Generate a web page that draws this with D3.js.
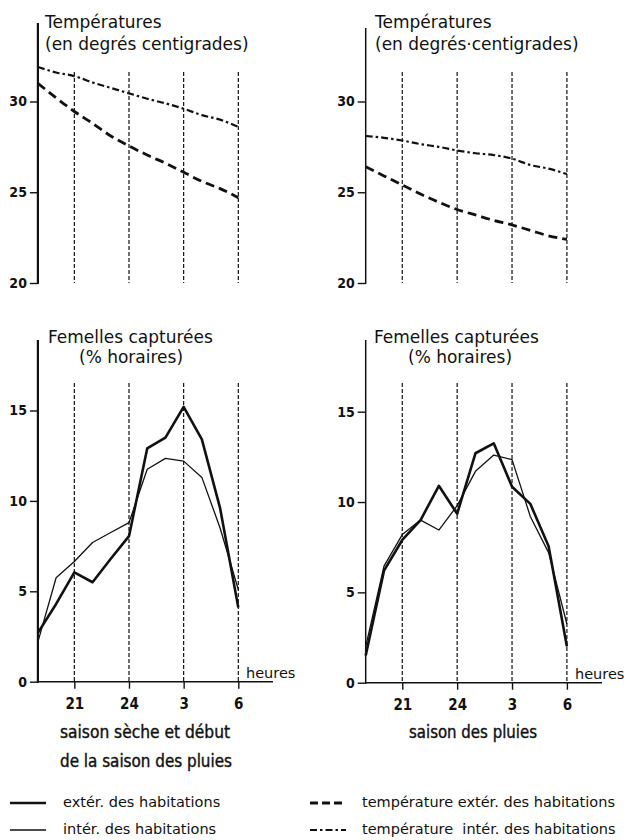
<!DOCTYPE html>
<html>
<head>
<meta charset="utf-8">
<script src="https://cdn.jsdelivr.net/npm/d3@7"></script>
<style>
body{margin:0;background:#fff;}
svg text{font-family:"DejaVu Sans",sans-serif;fill:#111;}
</style>
</head>
<body>
<svg id="chart" width="624" height="840"></svg>
<script>
// hours of the night, 19h -> 6h
const hours = ['19','20','21','22','23','24','1','2','3','4','5','6'];
const hourTicks = ['21','24','3','6'];
const tempTicks = [20, 25, 30];
const captureTicks = [0, 5, 10, 15];

// saison seche et debut de la saison des pluies
const dryTempExt = [31.0, 30.2, 29.45, 28.8, 28.1, 27.55, 27.05, 26.6, 26.1, 25.6, 25.2, 24.7];
const dryTempInt = [31.9, 31.6, 31.4, 31.05, 30.75, 30.45, 30.15, 29.9, 29.6, 29.25, 29.0, 28.6];
const dryCapExt = [2.7, 4.3, 6.05, 5.5, 6.8, 8.05, 12.9, 13.5, 15.2, 13.4, 9.6, 4.1];
const dryCapInt = [2.2, 5.75, 6.65, 7.7, 8.25, 8.8, 11.75, 12.35, 12.2, 11.3, 8.5, 5.1];

// saison des pluies
const wetTempExt = [26.4, 25.9, 25.4, 24.9, 24.45, 24.05, 23.75, 23.45, 23.2, 22.9, 22.6, 22.4];
const wetTempInt = [28.1, 28.0, 27.85, 27.65, 27.5, 27.3, 27.15, 27.05, 26.85, 26.5, 26.3, 26.0];
const wetCapExt = [1.5, 6.2, 7.9, 9.0, 10.9, 9.35, 12.7, 13.25, 10.85, 9.9, 7.55, 2.0];
const wetCapInt = [2.0, 6.45, 8.2, 9.0, 8.45, 9.8, 11.7, 12.6, 12.35, 9.2, 7.2, 3.25];

const styles = {
    capExt: {width: 2.6, dash: null},
    capInt: {width: 1.3, dash: null},
    tempExt: {width: 2.8, dash: '9,5'},
    tempInt: {width: 2.2, dash: '7,3,2.5,3'}
};

let svg = d3.select('#chart');

function drawPanel(p){
    let x = d3.scalePoint().domain(hours).range(p.xRange);
    let y = d3.scaleLinear().domain(p.yDomain).range(p.yRange);
    let g = svg.append('g');
    let yBase = y(p.yDomain[0]);

    // dashed hour markers
    g.selectAll('line.hour').data(hourTicks).enter().append('line')
        .attr('x1', function(d){return x(d)}).attr('x2', function(d){return x(d)})
        .attr('y1', p.gridTop).attr('y2', yBase)
        .style('stroke', '#111').style('stroke-width', 1.2).style('stroke-dasharray', '4,2');

    // series
    let line = d3.line()
        .x(function(d, i){return x(hours[i])})
        .y(function(d){return y(d)})
        .curve(p.smooth ? d3.curveMonotoneX : d3.curveLinear);
    p.series.forEach(function(s){
        let st = styles[s.style];
        g.append('path').datum(s.values)
            .attr('d', line)
            .style('fill', 'none').style('stroke', '#111')
            .style('stroke-width', st.width)
            .style('stroke-dasharray', st.dash)
            .style('stroke-linejoin', 'round');
    });

    // y axis
    let yAxis = d3.axisLeft(y).tickValues(p.yTicks).tickSize(8).tickPadding(3).tickFormat(d3.format('d'));
    let ya = g.append('g').attr('transform', 'translate(' + p.xRange[0] + ',0)').call(yAxis);
    ya.select('.domain').remove();
    ya.selectAll('.tick line').style('stroke', '#111').style('stroke-width', 1.4);
    ya.selectAll('.tick text')
        .style('font-family', '"DejaVu Sans Condensed","DejaVu Sans",sans-serif')
        .style('font-weight', 'bold').style('font-size', '14px').style('fill', '#111');
    g.append('line')
        .attr('x1', p.xRange[0]).attr('x2', p.xRange[0])
        .attr('y1', p.axisTop).attr('y2', yBase + 1)
        .style('stroke', '#111').style('stroke-width', p.axisWidth);

    // x axis (bottom panels only)
    if(p.xAxis){
        let xAxis = d3.axisBottom(x).tickValues(hourTicks).tickSize(7).tickPadding(10).tickSizeOuter(0);
        let xa = g.append('g').attr('transform', 'translate(0,' + yBase + ')').call(xAxis);
        xa.select('.domain').remove();
        xa.selectAll('.tick line').style('stroke', '#111').style('stroke-width', 1.4);
        xa.selectAll('.tick text')
            .style('font-family', '"DejaVu Sans Condensed","DejaVu Sans",sans-serif')
            .style('font-weight', 'bold').style('font-size', '15px').style('fill', '#111');
        g.append('line')
            .attr('x1', p.xRange[0]).attr('x2', p.xAxisEnd)
            .attr('y1', yBase).attr('y2', yBase)
            .style('stroke', '#111').style('stroke-width', 1.6);
        g.append('text').attr('x', p.heuresX).attr('y', yBase - 4)
            .style('font-size', '14.5px').text('heures');
    }

    // titles
    p.title.forEach(function(t){
        g.append('text').attr('x', t.x).attr('y', t.y)
            .style('font-size', '17px').text(t.text);
    });
}

drawPanel({
    xRange: [37.9, 238.3], yDomain: [20, 30], yRange: [283, 101.5], yTicks: tempTicks,
    axisTop: 23, gridTop: 72, axisWidth: 2.2, smooth: true, xAxis: false,
    series: [{values: dryTempExt, style: 'tempExt'}, {values: dryTempInt, style: 'tempInt'}],
    title: [{x: 45, y: 28, text: 'Températures'}, {x: 45, y: 50, text: '(en degrés centigrades)'}]
});
drawPanel({
    xRange: [365.7, 566.9], yDomain: [20, 30], yRange: [283, 101.5], yTicks: tempTicks,
    axisTop: 28, gridTop: 72, axisWidth: 1.5, smooth: true, xAxis: false,
    series: [{values: wetTempExt, style: 'tempExt'}, {values: wetTempInt, style: 'tempInt'}],
    title: [{x: 375, y: 28, text: 'Températures'}, {x: 375, y: 50, text: '(en degrés·centigrades)'}]
});
drawPanel({
    xRange: [37.9, 238.3], yDomain: [0, 15], yRange: [681.7, 410.5], yTicks: captureTicks,
    axisTop: 340, gridTop: 383, axisWidth: 2.2, smooth: false, xAxis: true, xAxisEnd: 273, heuresX: 246,
    series: [{values: dryCapExt, style: 'capExt'}, {values: dryCapInt, style: 'capInt'}],
    title: [{x: 48, y: 343, text: 'Femelles capturées'}, {x: 79, y: 363, text: '(% horaires)'}]
});
drawPanel({
    xRange: [365.7, 566.9], yDomain: [0, 15], yRange: [682.7, 411.7], yTicks: captureTicks,
    axisTop: 340, gridTop: 383, axisWidth: 1.5, smooth: false, xAxis: true, xAxisEnd: 602, heuresX: 575,
    series: [{values: wetCapExt, style: 'capExt'}, {values: wetCapInt, style: 'capInt'}],
    title: [{x: 374, y: 343, text: 'Femelles capturées'}, {x: 408, y: 363, text: '(% horaires)'}]
});

// season captions
const captions = [
    {x: 60, y: 738, w: 170, text: 'saison sèche et début'},
    {x: 60, y: 767, w: 172, text: 'de la saison des pluies'},
    {x: 409, y: 738, w: 128, text: 'saison des pluies'}
];
svg.append('g').selectAll('text').data(captions).enter().append('text')
    .attr('x', function(d){return d.x}).attr('y', function(d){return d.y})
    .attr('textLength', function(d){return d.w}).attr('lengthAdjust', 'spacingAndGlyphs')
    .style('font-family', '"DejaVu Sans Condensed","DejaVu Sans",sans-serif')
    .style('font-size', '18px').style('stroke', '#111').style('stroke-width', 0.4)
    .text(function(d){return d.text});

// legend
const legendItems = [
    {x: 10, y: 803, style: 'capExt', label: 'extér. des habitations', tx: 63},
    {x: 10, y: 830, style: 'capInt', label: 'intér. des habitations', tx: 63},
    {x: 310, y: 803, style: 'tempExt', label: 'température extér. des habitations', tx: 362},
    {x: 310, y: 830, style: 'tempInt', label: 'température  intér. des habitations', tx: 362}
];
let legend = svg.append('g').selectAll('g').data(legendItems).enter().append('g');
legend.append('line')
    .attr('x1', function(d){return d.x}).attr('x2', function(d){return d.x + 36})
    .attr('y1', function(d){return d.y}).attr('y2', function(d){return d.y})
    .style('stroke', '#111')
    .style('stroke-width', function(d){return styles[d.style].width})
    .style('stroke-dasharray', function(d){return d.style == 'tempExt' ? '8,4' : styles[d.style].dash});
legend.append('text')
    .attr('x', function(d){return d.tx}).attr('y', function(d){return d.y + 4})
    .style('font-size', '14.5px').style('white-space', 'pre')
    .text(function(d){return d.label});
</script>
</body>
</html>
